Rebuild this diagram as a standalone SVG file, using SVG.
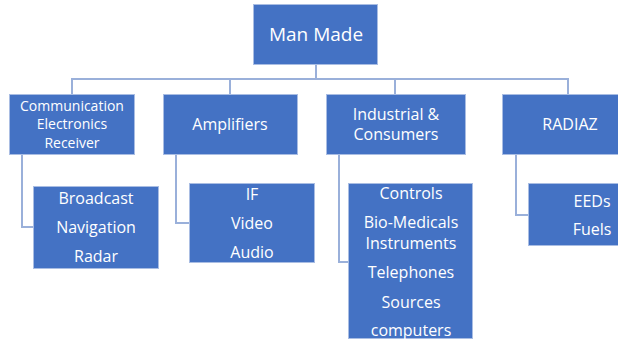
<svg xmlns="http://www.w3.org/2000/svg" width="618" height="343" viewBox="0 0 618 343">
  <style>
    .box { fill: #4472C4; stroke: #A9BDE3; stroke-width: 1; }
    .lbl { fill: #FFFFFF; font-family: "Open Sans", "Liberation Sans", sans-serif; text-anchor: middle; }
    .wire { fill: none; stroke: #9AB0DA; stroke-width: 2; }
  </style>
  <rect width="618" height="343" fill="#FFFFFF"/>

  <g id="connectors">
    <path class="wire" d="M316 65 V79 M72 95 V79 H568 V95 M230 79 V95 M395 79 V95"/>
    <path class="wire" d="M22 154 V227 H33"/>
    <path class="wire" d="M176 154 V223 H189"/>
    <path class="wire" d="M339 154 V262 H348"/>
    <path class="wire" d="M516 154 V215 H528"/>
  </g>

  <g id="man-made">
    <rect class="box" x="253.5" y="4.5" width="124" height="60"/>
    <text class="lbl" x="316" y="41" font-size="19">Man Made</text>
  </g>

  <g id="communication">
    <rect class="box" x="9.5" y="94.5" width="125" height="60"/>
    <text class="lbl" x="72" y="111" font-size="14">Communication</text>
    <text class="lbl" x="72" y="129" font-size="14">Electronics</text>
    <text class="lbl" x="72" y="148" font-size="14">Receiver</text>
  </g>

  <g id="amplifiers">
    <rect class="box" x="163.5" y="94.5" width="134" height="60"/>
    <text class="lbl" x="230" y="129.5" font-size="16">Amplifiers</text>
  </g>

  <g id="industrial">
    <rect class="box" x="326.5" y="94.5" width="139" height="60"/>
    <text class="lbl" x="396" y="119.5" font-size="16">Industrial &amp;</text>
    <text class="lbl" x="396" y="139.5" font-size="16">Consumers</text>
  </g>

  <g id="radiaz">
    <rect class="box" x="502.5" y="94.5" width="130" height="60"/>
    <text class="lbl" x="570" y="129.5" font-size="16">RADIAZ</text>
  </g>

  <g id="communication-items">
    <rect class="box" x="33.5" y="186.5" width="125" height="82"/>
    <text class="lbl" x="96" y="203.5" font-size="16">Broadcast</text>
    <text class="lbl" x="96" y="232.5" font-size="16">Navigation</text>
    <text class="lbl" x="96" y="261.5" font-size="16">Radar</text>
  </g>

  <g id="amplifier-items">
    <rect class="box" x="189.5" y="183.5" width="125" height="79"/>
    <text class="lbl" x="252" y="199.5" font-size="16">IF</text>
    <text class="lbl" x="252" y="228.5" font-size="16">Video</text>
    <text class="lbl" x="252" y="257.5" font-size="16">Audio</text>
  </g>

  <g id="industrial-items">
    <rect class="box" x="348.5" y="183.5" width="124" height="155"/>
    <text class="lbl" x="411" y="198.5" font-size="16">Controls</text>
    <text class="lbl" x="411" y="227.5" font-size="16">Bio-Medicals</text>
    <text class="lbl" x="411" y="248.5" font-size="16">Instruments</text>
    <text class="lbl" x="411" y="277.5" font-size="16">Telephones</text>
    <text class="lbl" x="411" y="307.5" font-size="16">Sources</text>
    <text class="lbl" x="411" y="335.5" font-size="16">computers</text>
  </g>

  <g id="radiaz-items">
    <rect class="box" x="528.5" y="183.5" width="130" height="62"/>
    <text class="lbl" x="592" y="206.5" font-size="16">EEDs</text>
    <text class="lbl" x="592" y="234.5" font-size="16">Fuels</text>
  </g>
</svg>
